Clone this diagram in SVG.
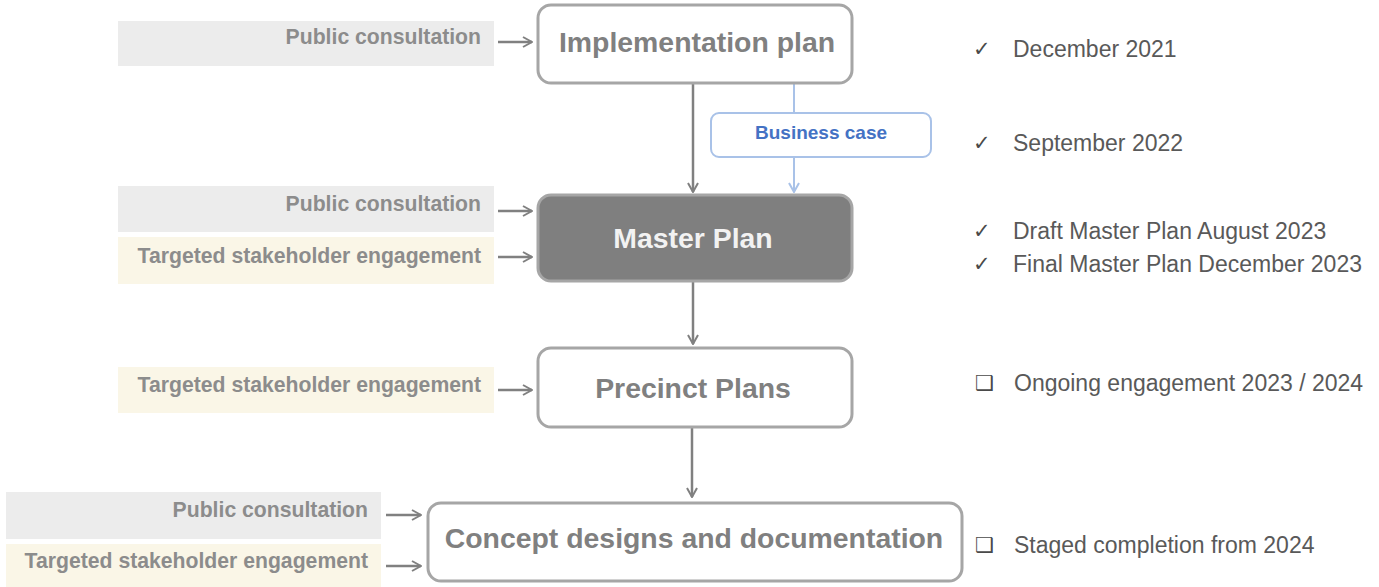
<svg xmlns="http://www.w3.org/2000/svg" width="1379" height="587" viewBox="0 0 1379 587">
<style>
.node{fill:#fff;stroke:#a6a6a6;stroke-width:3}
.nt{font-family:"Liberation Sans",Arial,sans-serif;font-weight:bold;font-size:28.4px;fill:#808080;text-anchor:middle}
.pc{fill:#ececec}
.ts{fill:#faf6e7}
.lt{font-family:"Liberation Sans",Arial,sans-serif;font-weight:bold;font-size:21.2px;fill:#8c8c8c;text-anchor:end}
.rt{font-family:"Liberation Sans",Arial,sans-serif;font-size:23px;fill:#595959}
.sym{font-family:"DejaVu Sans",sans-serif;font-size:21px;fill:#4a4a4a}
.c{stroke:#808080;stroke-width:2.5;fill:none}
.cb{stroke:#a9c2e8;stroke-width:2;fill:none}
</style>
<defs>
<marker id="ah" viewBox="0 0 12 12" refX="11" refY="6" markerWidth="12" markerHeight="12" markerUnits="userSpaceOnUse" orient="auto">
<path d="M2,1 L11,6 L2,11" fill="none" stroke="#808080" stroke-width="2"/>
</marker>
<marker id="ahb" viewBox="0 0 12 12" refX="11" refY="6" markerWidth="12" markerHeight="12" markerUnits="userSpaceOnUse" orient="auto">
<path d="M2,1 L11,6 L2,11" fill="none" stroke="#a9c2e8" stroke-width="2"/>
</marker>
</defs>

<g id="inputs">
<rect class="pc" x="118" y="21" width="376" height="45"/>
<text class="lt" x="481" y="44">Public consultation</text>
<rect class="pc" x="118" y="186" width="376" height="46"/>
<text class="lt" x="481" y="211">Public consultation</text>
<rect class="ts" x="118" y="237" width="376" height="47"/>
<text class="lt" x="481" y="263">Targeted stakeholder engagement</text>
<rect class="ts" x="118" y="367" width="376" height="46"/>
<text class="lt" x="481" y="392">Targeted stakeholder engagement</text>
<rect class="pc" x="6" y="492" width="375" height="47"/>
<text class="lt" x="368" y="517">Public consultation</text>
<rect class="ts" x="6" y="544" width="375" height="43"/>
<text class="lt" x="368" y="568">Targeted stakeholder engagement</text>
</g>

<g id="connectors">
<line class="c" x1="498" y1="42" x2="532" y2="42" marker-end="url(#ah)"/>
<line class="c" x1="498" y1="211" x2="532" y2="211" marker-end="url(#ah)"/>
<line class="c" x1="498" y1="257" x2="532" y2="257" marker-end="url(#ah)"/>
<line class="c" x1="498" y1="390" x2="532" y2="390" marker-end="url(#ah)"/>
<line class="c" x1="386" y1="515" x2="421" y2="515" marker-end="url(#ah)"/>
<line class="c" x1="386" y1="566" x2="421" y2="566" marker-end="url(#ah)"/>
<line class="c" x1="693" y1="83" x2="693" y2="192" marker-end="url(#ah)"/>
<line class="c" x1="693" y1="281" x2="693" y2="344" marker-end="url(#ah)"/>
<line class="c" x1="692" y1="427" x2="692" y2="497" marker-end="url(#ah)"/>
<line class="cb" x1="794" y1="83" x2="794" y2="113"/>
<line class="cb" x1="794" y1="157" x2="794" y2="192" marker-end="url(#ahb)"/>
</g>

<g id="implementation">
<rect class="node" x="538" y="5" width="314" height="78" rx="13"/>
<text class="nt" x="697" y="52">Implementation plan</text>
</g>
<g id="business">
<rect x="711" y="113" width="220" height="44" rx="8" fill="#fff" stroke="#a9c2e8" stroke-width="2"/>
<text x="821" y="139" font-family="Liberation Sans,Arial,sans-serif" font-weight="bold" font-size="19" fill="#4472c4" text-anchor="middle">Business case</text>
</g>
<g id="master">
<rect x="538" y="195" width="314" height="86" rx="13" fill="#7f7f7f" stroke="#a6a6a6" stroke-width="3"/>
<text class="nt" x="693" y="248" style="fill:#f2f2f2">Master Plan</text>
</g>
<g id="precinct">
<rect class="node" x="538" y="348" width="314" height="79" rx="13"/>
<text class="nt" x="693" y="398">Precinct Plans</text>
</g>
<g id="concept">
<rect class="node" x="428" y="503" width="534" height="78" rx="13"/>
<text class="nt" x="694" y="548">Concept designs and documentation</text>
</g>

<g id="milestones">
<text class="sym" x="973" y="56">✓</text>
<text class="rt" x="1013" y="57">December 2021</text>
<text class="sym" x="973" y="150">✓</text>
<text class="rt" x="1013" y="151">September 2022</text>
<text class="sym" x="973" y="238">✓</text>
<text class="rt" x="1013" y="239">Draft Master Plan August 2023</text>
<text class="sym" x="973" y="271">✓</text>
<text class="rt" x="1013" y="272">Final Master Plan December 2023</text>
<text class="sym" x="975" y="390">❑</text>
<text class="rt" x="1014" y="391">Ongoing engagement 2023 / 2024</text>
<text class="sym" x="975" y="552">❑</text>
<text class="rt" x="1014" y="553">Staged completion from 2024</text>
</g>
</svg>
